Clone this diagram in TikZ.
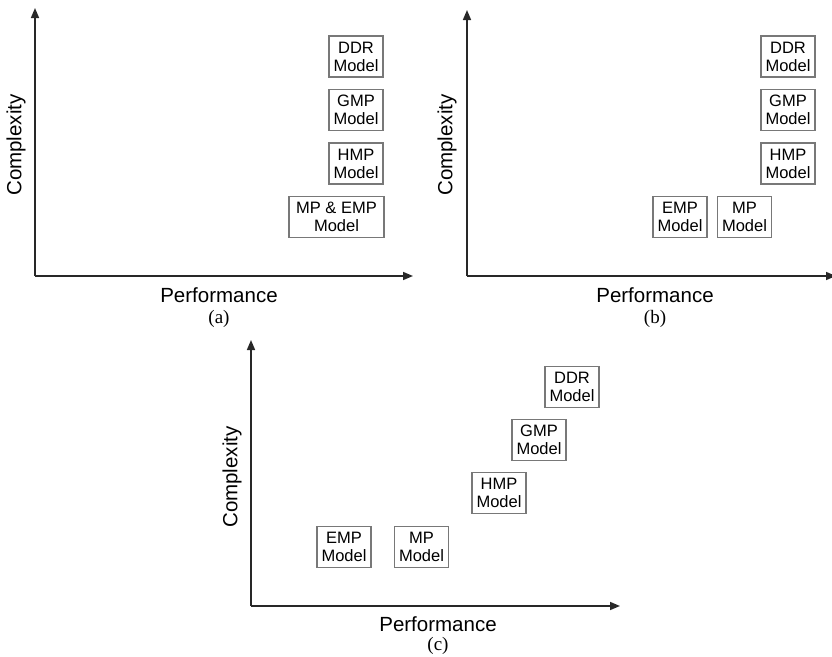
\documentclass[tikz,border=0pt]{standalone}
\usepackage{fontspec}
\setmainfont{Liberation Serif}
\setsansfont{Liberation Sans}
\usetikzlibrary{arrows.meta}
\definecolor{axiscolor}{RGB}{40,40,40}
\definecolor{boxcolor}{RGB}{120,120,120}

\begin{document}
\begin{tikzpicture}[x=1pt, y=-1pt,
    axis/.style={-{Triangle[length=10pt, width=8pt]}, line width=1.6pt, axiscolor},
    modelbox/.style={draw=boxcolor, line width=1.4pt, align=center, inner sep=0pt,
      minimum width=54, minimum height=41,
      font=\sffamily\fontsize{16.5}{18}\selectfont},
    axislabel/.style={inner sep=0pt, font=\sffamily\fontsize{20.5}{22}\selectfont},
    caption/.style={inner sep=0pt, font=\rmfamily\fontsize{19}{20}\selectfont}]
  \useasboundingbox (0,0) rectangle (832,656);

  % --- Panel (a) ---
  \coordinate (oa) at (35,276);
  \coordinate (ya) at (35,8);
  \coordinate (xa) at (413,276);
  \draw[axis] (oa) -- (ya);
  \draw[axis] (oa) -- (xa);
  \node[axislabel] (perfa) at (219,295) {Performance};
  \node[axislabel, rotate=90] (compa) at (16,145) {Complexity};
  \node[caption] (capa) at (219,319) {(a)};
  \node[modelbox] (ddra) at (356,56.5) {DDR\\Model};
  \node[modelbox] (gmpa) at (356,110) {GMP\\Model};
  \node[modelbox] (hmpa) at (356,163.5) {HMP\\Model};
  \node[modelbox, minimum width=95] (mpa) at (336.5,217) {MP \& EMP\\Model};

  % --- Panel (b) ---
  \coordinate (ob) at (467,276);
  \coordinate (yb) at (467,10);
  \coordinate (xb) at (836,276);
  \draw[axis] (ob) -- (yb);
  \draw[axis] (ob) -- (xb);
  \node[axislabel] (perfb) at (655,295) {Performance};
  \node[axislabel, rotate=90] (compb) at (447,145) {Complexity};
  \node[caption] (capb) at (655,319) {(b)};
  \node[modelbox] (ddrb) at (788,56.5) {DDR\\Model};
  \node[modelbox] (gmpb) at (788,110) {GMP\\Model};
  \node[modelbox] (hmpb) at (788,163.5) {HMP\\Model};
  \node[modelbox] (empb) at (680,217) {EMP\\Model};
  \node[modelbox] (mpb) at (744.5,217) {MP\\Model};

  % --- Panel (c) ---
  \coordinate (oc) at (251,606);
  \coordinate (yc) at (251,340);
  \coordinate (xc) at (620,606);
  \draw[axis] (oc) -- (yc);
  \draw[axis] (oc) -- (xc);
  \node[axislabel] (perfc) at (438,624) {Performance};
  \node[axislabel, rotate=90] (compc) at (232,477) {Complexity};
  \node[caption] (capc) at (438,646) {(c)};
  \node[modelbox] (ddrc) at (572,387) {DDR\\Model};
  \node[modelbox] (gmpc) at (539,440) {GMP\\Model};
  \node[modelbox] (hmpc) at (499,493) {HMP\\Model};
  \node[modelbox] (empc) at (344,547) {EMP\\Model};
  \node[modelbox] (mpc) at (421.5,547) {MP\\Model};
\end{tikzpicture}
\end{document}
